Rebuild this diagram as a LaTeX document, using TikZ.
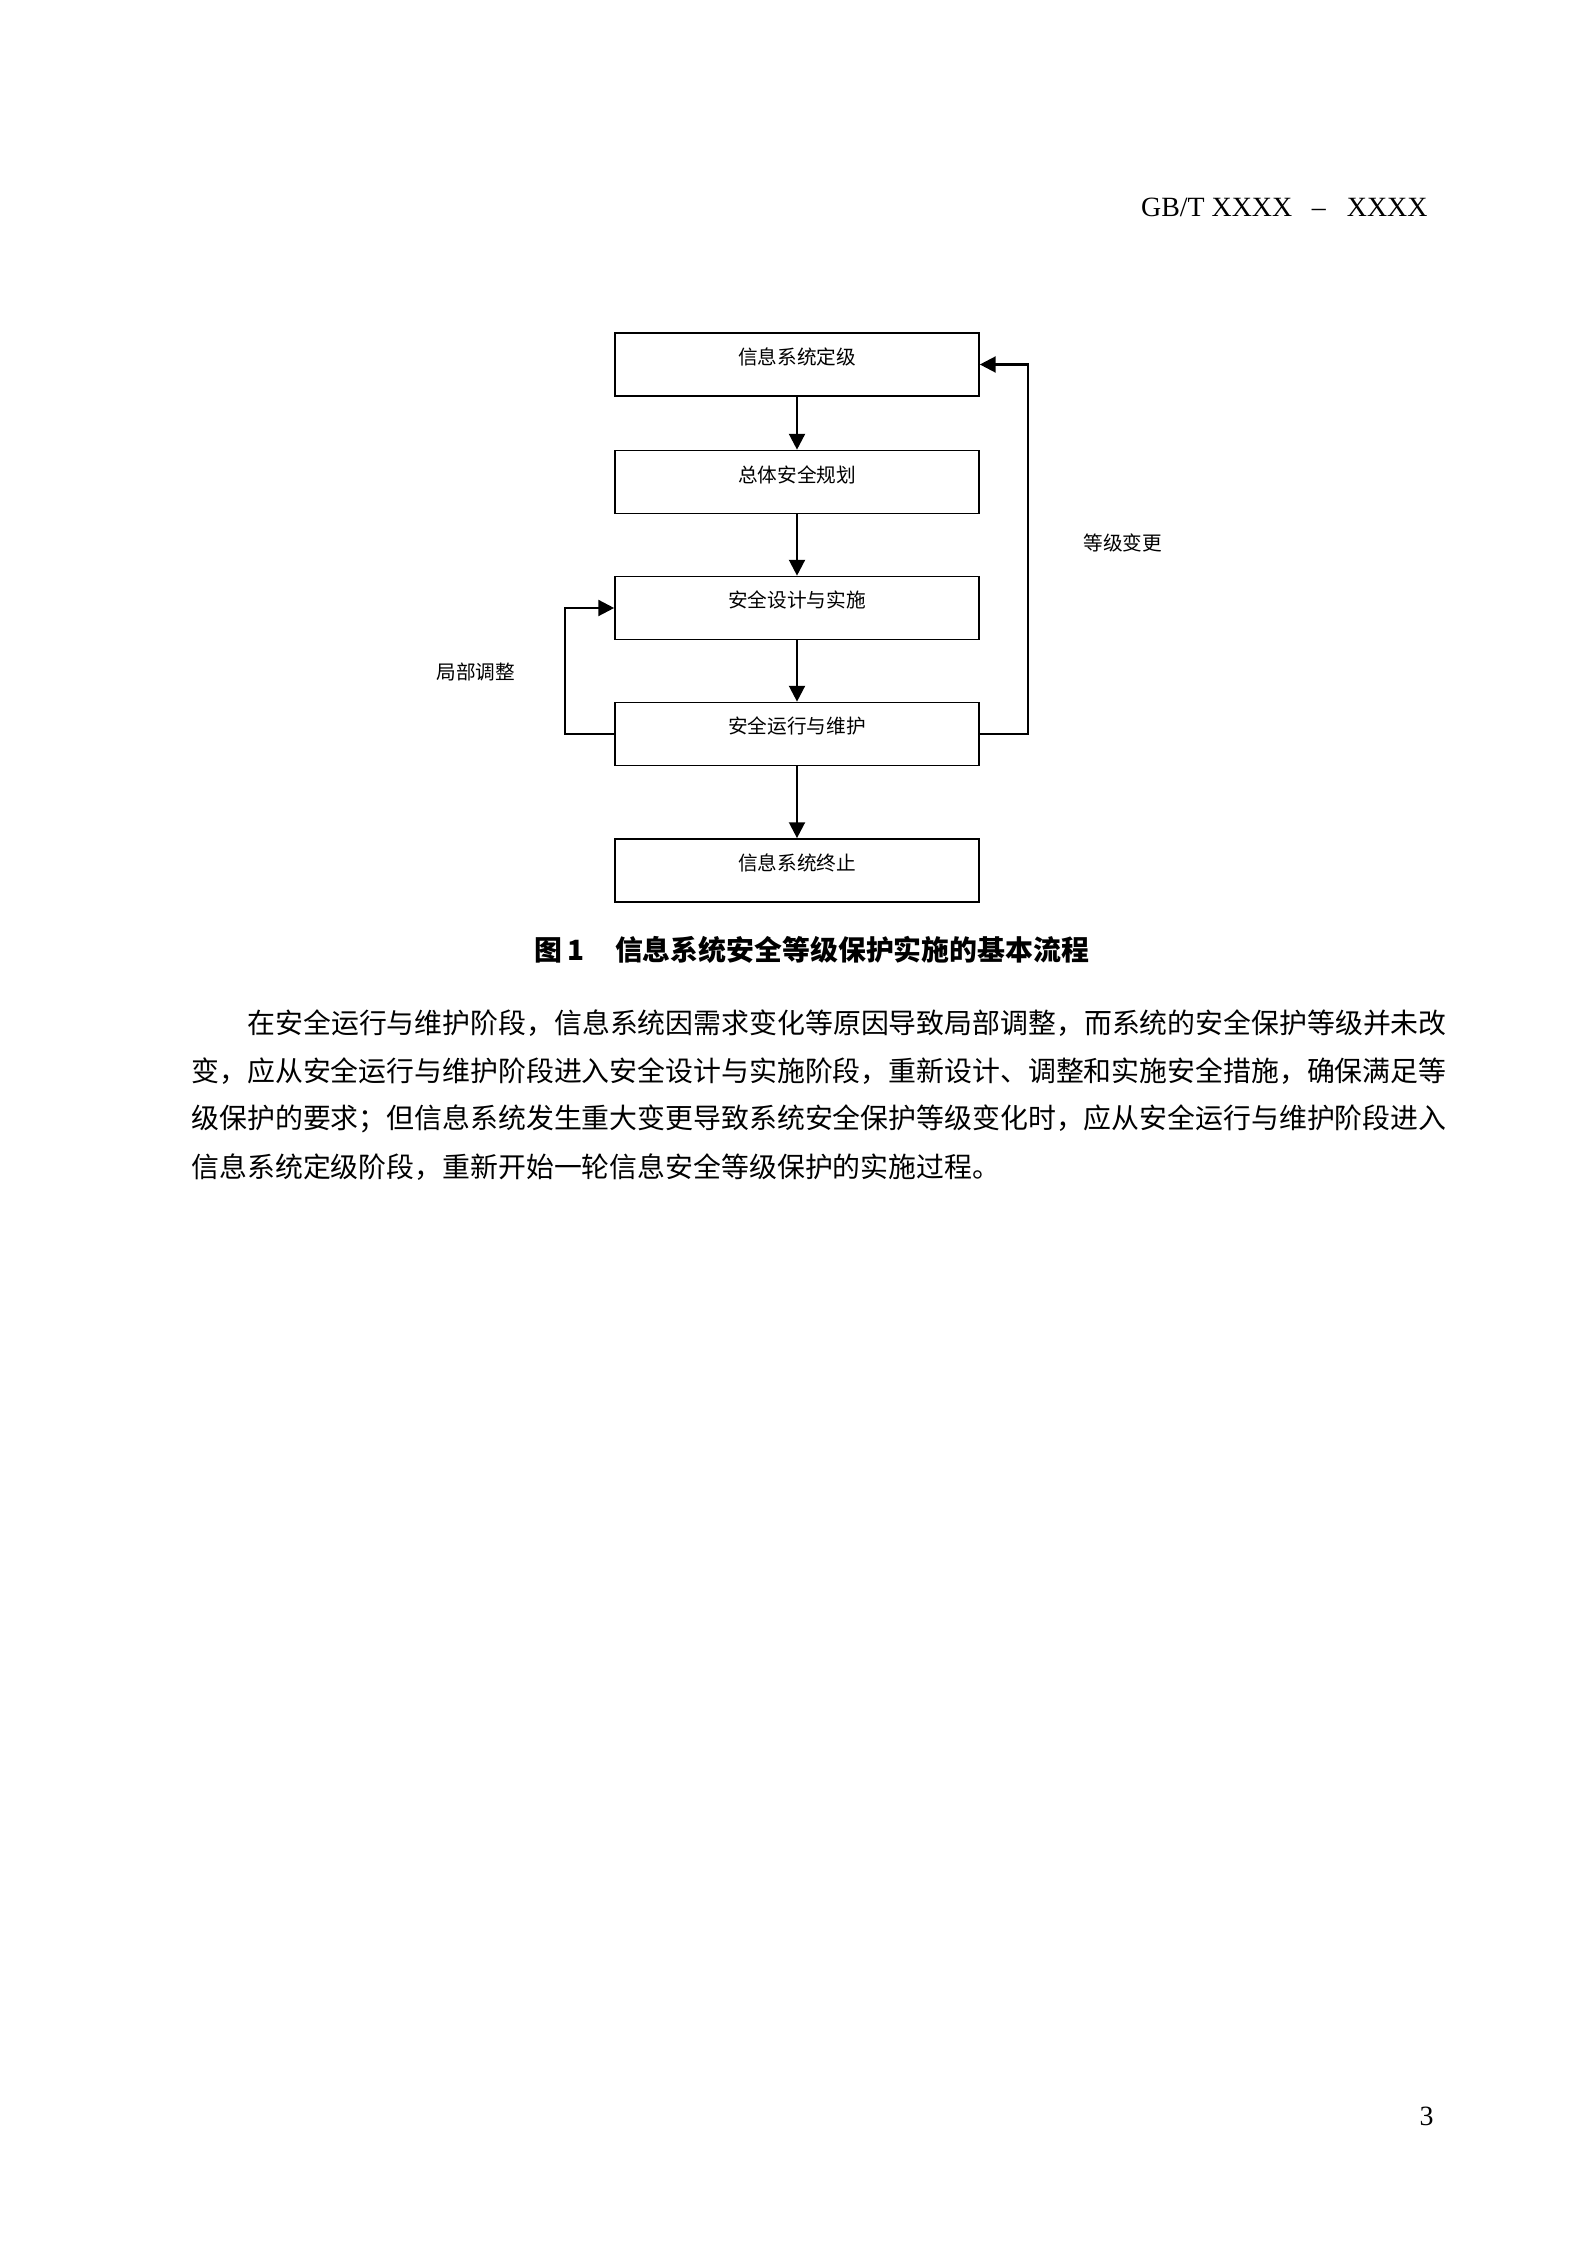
\documentclass[tikz,border=0pt]{standalone}
\usepackage{fontspec}
\setmainfont{Liberation Serif}
\newfontfamily\cjk{Noto Sans CJK SC}
\usetikzlibrary{arrows.meta,positioning}

% spread one line of characters over a given width
\newcommand\spreadline[2]{\hbox to #1{\spreadloop#2\relax\hskip 0pt plus -1fil}}
\def\spreadloop#1{\ifx#1\relax\else#1\hskip 0pt plus 1fil\expandafter\spreadloop\fi}

\begin{document}
\begin{tikzpicture}[
    x=0.13233mm, y=-0.13233mm,
    node distance=16.67mm,
    >={Triangle[length=2.1mm,width=2.1mm]},
    font=\cjk\fontsize{7.4}{9}\selectfont,
    stage/.style={
		rectangle,
		draw=black,
		line width=0.6pt,
		text centered,
		minimum height=8.34mm,
		minimum width=48.17mm,
		text height=2.4mm,
		text depth=2.4mm,
		fill=white
	},
	flow/.style={
		->,
		line width=0.9pt
	},
	tag/.style={
		inner sep=0pt
	},
	bodyline/.style={
		anchor=west,
		inner sep=0pt,
		font=\cjk\fontsize{10.5}{12}\selectfont
	},
	pagetext/.style={
		inner sep=0pt,
		font=\rmfamily\fontsize{10.5}{12}\selectfont
	}
  ]

\useasboundingbox (0,0) rectangle (1587,2245);

% // page head
\node [pagetext, anchor=east] (head) at (1428,207)
 {GB/T XXXX\hspace{2.6mm}--\hspace{2.8mm}XXXX};

% // the stages
 \node [stage] (box1) at (797,364.5) {信息系统定级};
 \node [stage, below of=box1, node distance=15.55mm] (box2) {总体安全规划};
 \node [stage, below of=box2] (box3) {安全设计与实施};
 \node [stage, below of=box3] (box4) {安全运行与维护};
 \node [stage, below of=box4, node distance=18.06mm] (box5) {信息系统终止};

 \draw [flow] (box1) -- (box2);
 \draw [flow] (box2) -- (box3);
 \draw [flow] (box3) -- (box4);
 \draw [flow] (box4) -- (box5);

% // the loops
 \draw [flow] (box4.east) -- ++(6.35mm,0) |- (box1.east);
 \draw [flow] (box4.west) -- ++(-6.48mm,0) |- (box3.west);
 \node [tag, right of=box2, node distance=43.1mm, yshift=-8.07mm] (grade) {等级变更};
 \node [tag, left of=box3, node distance=42.5mm, yshift=-8.47mm] (local) {局部调整};

% // caption
\node [tag, font=\cjk\bfseries\fontsize{10.5}{12}\selectfont] (caption) at (812,950)
 {图\,1\hspace{1.1em}信息系统安全等级保护实施的基本流程};

% // the paragraph
\node [bodyline] (line1) at (247,1023)
 {\spreadline{156.6mm}{在安全运行与维护阶段，信息系统因需求变化等原因导致局部调整，而系统的安全保护等级并未改}};
\node [bodyline] (line2) at (191,1071)
 {\spreadline{164.0mm}{变，应从安全运行与维护阶段进入安全设计与实施阶段，重新设计、调整和实施安全措施，确保满足等}};
\node [bodyline] (line3) at (191,1119)
 {\spreadline{164.0mm}{级保护的要求；但信息系统发生重大变更导致系统安全保护等级变化时，应从安全运行与维护阶段进入}};
\node [bodyline] (line4) at (191,1167)
 {信息系统定级阶段，重新开始一轮信息安全等级保护的实施过程。};

% // page number
\node [pagetext, anchor=east] (pageno) at (1434,2116) {3};

\end{tikzpicture}
\end{document}
